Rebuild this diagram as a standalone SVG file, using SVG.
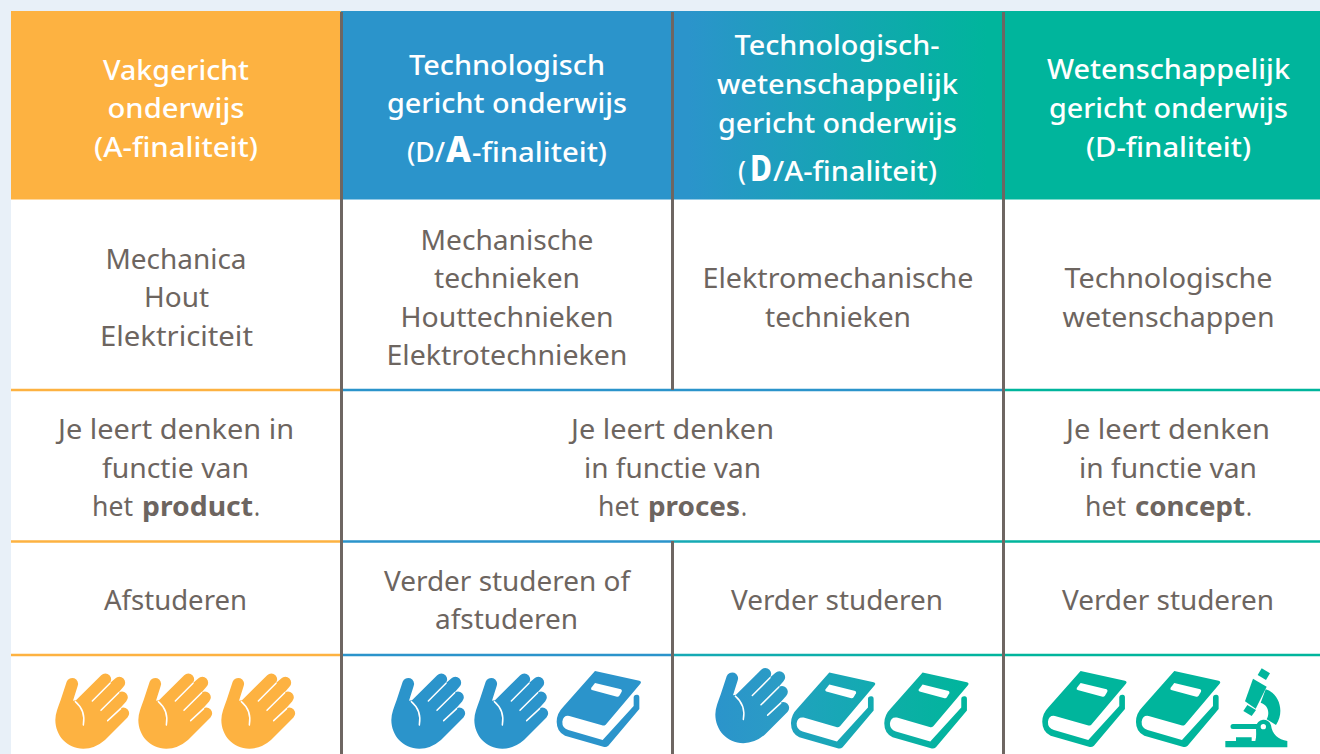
<svg xmlns="http://www.w3.org/2000/svg" width="1320" height="754" viewBox="0 0 1320 754">
<style>
text{font-family:"Noto Sans","Open Sans",sans-serif;font-size:27.5px;text-anchor:middle}
.h{fill:#fff;font-weight:500}
.b{fill:#6d6560;font-weight:400}
.l{text-anchor:start}
.s{font-weight:700}
.big{font-weight:800;font-size:35px}
.v{stroke:#6e6662;stroke-width:3;fill:none}
.r{stroke-width:2.6;fill:none}
.crease{fill:none;stroke:#fff;stroke-width:4.500;stroke-linecap:round}
.ink-o{fill:#fdb241}.ink-b{fill:#2b94cb}.ink-t{fill:#00b59c}
</style>
<defs>
<linearGradient id="hg" gradientUnits="userSpaceOnUse" x1="672" y1="0" x2="1003" y2="0"><stop offset="0.05" stop-color="#2b94cb"/><stop offset="0.95" stop-color="#00b59c"/></linearGradient>
<linearGradient id="lg" gradientUnits="userSpaceOnUse" x1="672" y1="0" x2="1003" y2="0"><stop offset="0" stop-color="#17a9b6"/><stop offset="1" stop-color="#00b59c"/></linearGradient>
<linearGradient id="ih"><stop offset="0" stop-color="#2b94cb"/><stop offset="1" stop-color="#2a9dc4"/></linearGradient>
<linearGradient id="ib1"><stop offset="0" stop-color="#20a2be"/><stop offset="1" stop-color="#12abb0"/></linearGradient>
<linearGradient id="ib2"><stop offset="0" stop-color="#0eaea8"/><stop offset="1" stop-color="#00b59c"/></linearGradient>
<g id="hand" transform="scale(.33333)">
<path d="M200 95A17.500 17.500 0 0 1 233 108L219 152L228 151L303.600 75.600A17.500 17.500 0 0 1 328.400 100.400L345.600 85.600A17.500 17.500 0 0 1 370.400 110.400L353.600 129.600A17.500 17.500 0 0 1 378.400 154.400L357.600 177.600A17.500 17.500 0 0 1 382.400 202.400L315 270Q285 296 250 296C200 296 166 255 166 210C166 190 175 170 182 150Z"/>
<path class="crease" d="M226 155Q258 182 250 225"/><path class="crease" d="M277 153L330 100M303 181L356 128M323 212L362 176"/>
</g>
<g id="book" transform="scale(.33333)">
<path d="M165 63L298 92Q306 95 301 101L197 224Q192 228 186 226L88 198Q70 195 67 215Q66 234 85 240L188 270L281 168L281 142Q281 135 290 134Q298 133 298 142L298 177L205 287Q198 293 190 290L75 257Q50 245 50 215Q50 190 70 170Z"/>
<path fill="#fff" d="M165 99L243 118Q247 120 245 125L238 137Q235 141 231 140L156 120Q151 118 154 113Z"/>
</g>
</defs>
<rect width="1320" height="754" fill="#e8f0f8"/>
<rect x="11" y="11" width="1309" height="743" fill="#fff"/>
<g id="head-a"><rect x="11" y="11" width="331" height="188.500" fill="#fdb241"/>
<text class="h" x="176" y="79.500" textLength="146" lengthAdjust="spacingAndGlyphs">Vakgericht</text>
<text class="h" x="176" y="117.500" textLength="137" lengthAdjust="spacingAndGlyphs">onderwijs</text>
<text class="h" x="176" y="156.500" textLength="164" lengthAdjust="spacingAndGlyphs">(A-finaliteit)</text></g>
<g id="head-da"><rect x="341" y="11" width="332" height="188.500" fill="#2b94cb"/>
<text class="h" x="507" y="74.500" textLength="196" lengthAdjust="spacingAndGlyphs">Technologisch</text>
<text class="h" x="507" y="113" textLength="240" lengthAdjust="spacingAndGlyphs">gericht onderwijs</text>
<text class="h l" y="161.500"><tspan x="407" textLength="38" lengthAdjust="spacingAndGlyphs">(D/</tspan><tspan class="big" x="446" textLength="25" lengthAdjust="spacingAndGlyphs">A</tspan><tspan x="472" textLength="135" lengthAdjust="spacingAndGlyphs">-finaliteit)</tspan></text></g>
<g id="head-ad"><rect x="672" y="11" width="332" height="188.500" fill="url(#hg)"/>
<text class="h" x="837" y="55" textLength="205" lengthAdjust="spacingAndGlyphs">Technologisch-</text>
<text class="h" x="837.500" y="94" textLength="241" lengthAdjust="spacingAndGlyphs">wetenschappelijk</text>
<text class="h" x="837.500" y="133" textLength="239" lengthAdjust="spacingAndGlyphs">gericht onderwijs</text>
<text class="h l" y="181"><tspan x="738" textLength="8" lengthAdjust="spacingAndGlyphs">(</tspan><tspan class="big" x="750" textLength="22" lengthAdjust="spacingAndGlyphs">D</tspan><tspan x="773" textLength="164" lengthAdjust="spacingAndGlyphs">/A-finaliteit)</tspan></text></g>
<g id="head-d"><rect x="1003" y="11" width="317" height="188.500" fill="#00b59c"/>
<text class="h" x="1168.500" y="79" textLength="243" lengthAdjust="spacingAndGlyphs">Wetenschappelijk</text>
<text class="h" x="1168.500" y="118" textLength="239" lengthAdjust="spacingAndGlyphs">gericht onderwijs</text>
<text class="h" x="1168.500" y="157" textLength="165" lengthAdjust="spacingAndGlyphs">(D-finaliteit)</text></g>
<g id="connectors">
<path class="r" stroke="#fdb241" d="M11 390H341M11 541.500H341M11 655H341"/>
<path class="r" stroke="#2b94cb" d="M341 390H1003M341 541.500H672M341 655H672"/>
<path class="r" stroke="url(#lg)" d="M672 541.500H1003M672 655H1003"/>
<path class="r" stroke="#00b59c" d="M1003 390H1320M1003 541.500H1320M1003 655H1320"/>
<path class="v" d="M341.500 12V754M1003.500 12V754M672.500 12V390M672.500 541V754"/>
</g>
<g id="studies-a"><text class="b" x="176" y="269" textLength="141" lengthAdjust="spacingAndGlyphs">Mechanica</text>
<text class="b" x="176.500" y="307" textLength="65" lengthAdjust="spacingAndGlyphs">Hout</text>
<text class="b" x="176.500" y="346" textLength="153" lengthAdjust="spacingAndGlyphs">Elektriciteit</text></g>
<g id="studies-da"><text class="b" x="507" y="250" textLength="173" lengthAdjust="spacingAndGlyphs">Mechanische</text>
<text class="b" x="507" y="288" textLength="146" lengthAdjust="spacingAndGlyphs">technieken</text>
<text class="b" x="507" y="327" textLength="213" lengthAdjust="spacingAndGlyphs">Houttechnieken</text>
<text class="b" x="507" y="365" textLength="241" lengthAdjust="spacingAndGlyphs">Elektrotechnieken</text></g>
<g id="studies-ad"><text class="b" x="838" y="288" textLength="271" lengthAdjust="spacingAndGlyphs">Elektromechanische</text>
<text class="b" x="838" y="327" textLength="146" lengthAdjust="spacingAndGlyphs">technieken</text></g>
<g id="studies-d"><text class="b" x="1168.500" y="288" textLength="208" lengthAdjust="spacingAndGlyphs">Technologische</text>
<text class="b" x="1168.500" y="327" textLength="212" lengthAdjust="spacingAndGlyphs">wetenschappen</text></g>
<g id="think-a"><text class="b" x="176" y="439" textLength="236" lengthAdjust="spacingAndGlyphs">Je leert denken in</text>
<text class="b" x="175.500" y="478" textLength="147" lengthAdjust="spacingAndGlyphs">functie van</text>
<text class="b l" y="516"><tspan x="92" textLength="41" lengthAdjust="spacingAndGlyphs">het</tspan><tspan class="s" x="142" textLength="111" lengthAdjust="spacingAndGlyphs">product</tspan><tspan x="254" textLength="6" lengthAdjust="spacingAndGlyphs">.</tspan></text></g>
<g id="think-p"><text class="b" x="672.500" y="439" textLength="203" lengthAdjust="spacingAndGlyphs">Je leert denken</text>
<text class="b" x="672.500" y="478" textLength="177" lengthAdjust="spacingAndGlyphs">in functie van</text>
<text class="b l" y="516"><tspan x="598" textLength="41" lengthAdjust="spacingAndGlyphs">het</tspan><tspan class="s" x="648" textLength="92" lengthAdjust="spacingAndGlyphs">proces</tspan><tspan x="741" textLength="6" lengthAdjust="spacingAndGlyphs">.</tspan></text></g>
<g id="think-c"><text class="b" x="1168" y="439" textLength="204" lengthAdjust="spacingAndGlyphs">Je leert denken</text>
<text class="b" x="1168" y="478" textLength="178" lengthAdjust="spacingAndGlyphs">in functie van</text>
<text class="b l" y="516"><tspan x="1085" textLength="41" lengthAdjust="spacingAndGlyphs">het</tspan><tspan class="s" x="1135" textLength="110" lengthAdjust="spacingAndGlyphs">concept</tspan><tspan x="1246" textLength="6" lengthAdjust="spacingAndGlyphs">.</tspan></text></g>
<g id="after-a"><text class="b" x="175.500" y="610" textLength="143" lengthAdjust="spacingAndGlyphs">Afstuderen</text></g>
<g id="after-da"><text class="b" x="507" y="591" textLength="246" lengthAdjust="spacingAndGlyphs">Verder studeren of</text>
<text class="b" x="506.500" y="629" textLength="143" lengthAdjust="spacingAndGlyphs">afstuderen</text></g>
<g id="after-ad"><text class="b" x="837" y="610" textLength="212" lengthAdjust="spacingAndGlyphs">Verder studeren</text></g>
<g id="after-d"><text class="b" x="1168" y="610" textLength="212" lengthAdjust="spacingAndGlyphs">Verder studeren</text></g>
<g id="icons-a" class="ink-o"><use href="#hand" transform="translate(0 650)"/><use href="#hand" transform="translate(83 650)"/><use href="#hand" transform="translate(166 650)"/></g>
<g id="icons-da" class="ink-b"><use href="#hand" transform="translate(336 650)"/><use href="#hand" transform="translate(419 650)"/><use href="#book" transform="translate(540 650)"/></g>
<g id="icons-ad"><use href="#hand" fill="url(#ih)" transform="translate(660 644.500)"/><use href="#book" fill="url(#ib1)" transform="translate(774.300 651.600)"/><use href="#book" fill="url(#ib2)" transform="translate(867.600 651.600)"/></g>
<g id="icons-d" class="ink-t"><use href="#book" transform="translate(1025.600 650)"/><use href="#book" transform="translate(1119.300 650)"/>
<g id="microscope" transform="translate(1220 660) scale(.33333)">
<path d="M125 25L150 40L138 60L113 45Z"/>
<path d="M99 56L140 80L107 146L75 124Z"/>
<path d="M82 135L108 150L95 168L70 153Z"/>
<path d="M137 88C178 100 195 155 168 195L140 178C150 160 145 135 122 128Z"/>
<path d="M39 192H112V207H39A7.500 7.500 0 0 1 39 192Z"/>
<path fill-rule="evenodd" d="M16 243H48V232H95V243H106C110 230 108 215 108 200A23 23 0 0 1 153 196C156 222 175 240 202 243V262H16ZM130 192A8 8 0 1 0 130 208A8 8 0 1 0 130 192Z"/>
</g></g>
</svg>
